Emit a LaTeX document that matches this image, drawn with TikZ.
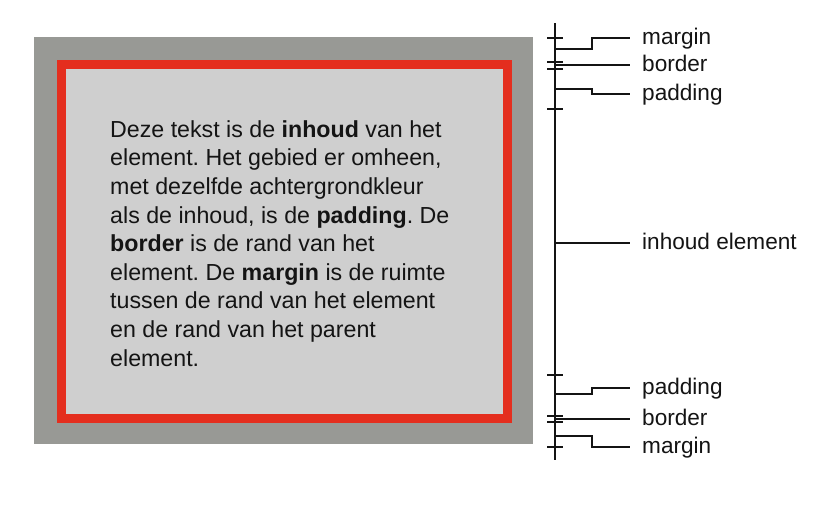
\documentclass[tikz,border=0pt]{standalone}
\usepackage{fontspec}
\usetikzlibrary{calc}
\setmainfont{Liberation Sans}
\frenchspacing
\definecolor{outergray}{RGB}{152,153,149}
\definecolor{redborder}{RGB}{228,46,30}
\definecolor{innergray}{RGB}{207,207,207}
\definecolor{ink}{RGB}{20,20,20}
\begin{document}
\begin{tikzpicture}[x=1pt,y=-1pt,
  axis/.style={line width=1.6pt,draw=ink},
  tickmark/.style={line width=1.6pt,draw=ink},
  lead/.style={line width=1.6pt,draw=ink},
  lbl/.style={anchor=base west,inner xsep=12pt,inner ysep=0pt,
    font=\fontsize{22.6}{27}\selectfont,text=ink}]
\useasboundingbox (0,0) rectangle (838,514);
\fill[white] (0,0) rectangle (838,514);

% box model: margin area, border, padding + content
\fill[outergray] (34,37) rectangle (533,444);
\fill[redborder] (57,60) rectangle (512,423);
\fill[innergray] (66,69) rectangle (503,414);

% the base anchor sits on the last line of the paragraph
\node[anchor=base west,align=left,inner sep=0pt,text=ink,
  font=\fontsize{23.2}{28.6}\selectfont] (txt) at (110,366)
  {Deze tekst is de \textbf{inhoud} van het\\
   element. Het gebied er omheen,\\
   met dezelfde achtergrondkleur\\
   als de inhoud, is de \textbf{padding}. De\\
   \textbf{border} is de rand van het\\
   element. De \textbf{margin} is de ruimte\\
   tussen de rand van het element\\
   en de rand van het parent\\
   element.};

% measuring axis
\coordinate (axtop) at (555,23);
\coordinate (axbot) at (555,460);
\draw[axis] (axtop) -- (axbot);

\foreach \y in {38,62,69,109,375,416,422,447}
  \draw[tickmark] (547,\y) -- (563,\y);

% labels (baseline 6pt below the leader line)
\node[lbl] (mtop) at (630,44) {margin};
\node[lbl] (btop) at (630,71) {border};
\node[lbl] (ptop) at (630,100) {padding};
\node[lbl] (cont) at (630,249) {inhoud element};
\node[lbl] (pbot) at (630,394) {padding};
\node[lbl] (bbot) at (630,425) {border};
\node[lbl] (mbot) at (630,453) {margin};

% leader lines from the axis to the labels
\coordinate (amt) at (555,49);
\coordinate (abt) at (555,65);
\coordinate (apt) at (555,89);
\coordinate (act) at (555,243);
\coordinate (apb) at (555,394);
\coordinate (abb) at (555,419);
\coordinate (amb) at (555,436);

\draw[lead] (amt) -- ++(37,0) |- ($(mtop.base west)+(0,-6)$);
\draw[lead] (abt) -- ($(btop.base west)+(0,-6)$);
\draw[lead] (apt) -- ++(37,0) |- ($(ptop.base west)+(0,-6)$);
\draw[lead] (act) -- ($(cont.base west)+(0,-6)$);
\draw[lead] (apb) -- ++(37,0) |- ($(pbot.base west)+(0,-6)$);
\draw[lead] (abb) -- ($(bbot.base west)+(0,-6)$);
\draw[lead] (amb) -- ++(37,0) |- ($(mbot.base west)+(0,-6)$);
\end{tikzpicture}
\end{document}
